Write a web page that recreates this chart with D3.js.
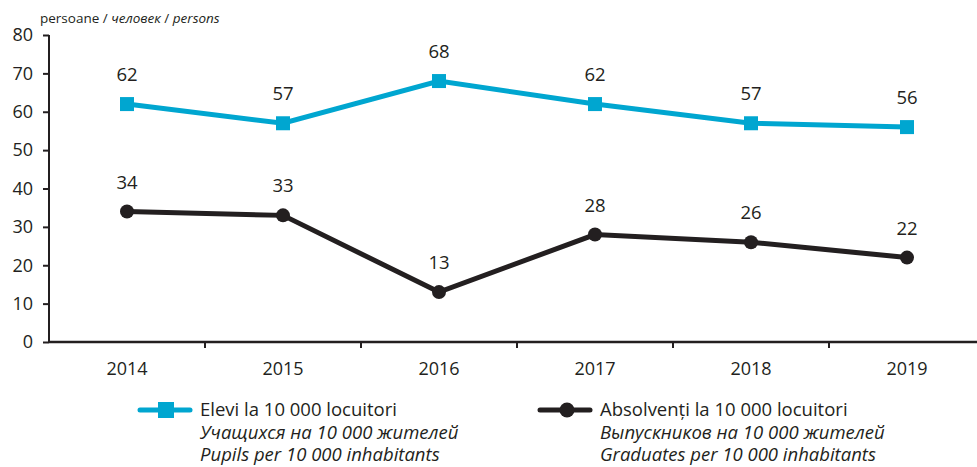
<!DOCTYPE html>
<html>
<head>
<meta charset="utf-8">
<script src="https://cdn.jsdelivr.net/npm/d3@7"></script>
<style>
  body { margin: 0; background: #fff; }
  text { font-family: "Open Sans", "Noto Sans", sans-serif; fill: #231f20; }
</style>
</head>
<body>
<svg id="chart" width="977" height="467"></svg>
<script>
// data
const years = ["2014", "2015", "2016", "2017", "2018", "2019"];
const pupils = [62, 57, 68, 62, 57, 56];
const graduates = [34, 33, 13, 28, 26, 22];
const yTicks = [0, 10, 20, 30, 40, 50, 60, 70, 80];

const blue = "#00a6d0", dark = "#231f20";

let svg = d3.select("#chart"),
    margin = {top: 35, right: -8, bottom: 125, left: 49},
    width = svg.attr("width") - margin.left - margin.right,
    height = svg.attr("height") - margin.top - margin.bottom,
    g = svg.append("g").attr("transform", "translate(" + margin.left + "," + margin.top + ")");

let x = d3.scaleBand().domain(years).range([0, width]),
    y = d3.scaleLinear().domain([0, 80]).range([height, 0]);

// y axis
let yAxis = g.append("g")
    .call(d3.axisLeft(y).tickValues(yTicks).tickSize(6).tickPadding(10));
yAxis.select(".domain").attr("stroke", dark).attr("stroke-width", 2).attr("d", "M0," + height + "V0");
yAxis.selectAll(".tick line").attr("stroke", dark).attr("stroke-width", 2);
yAxis.selectAll(".tick text").style("font-size", "18px").attr("fill", dark);

// x axis: ticks at band boundaries
let xAxis = g.append("g").attr("transform", "translate(0," + height + ")");
xAxis.append("line").attr("x1", 0).attr("x2", width + 10)
    .attr("stroke", dark).attr("stroke-width", 2.5);
xAxis.selectAll(".bound")
    .data(years.slice(1))
    .enter().append("line")
    .attr("x1", d => x(d)).attr("x2", d => x(d))
    .attr("y1", 0).attr("y2", 6)
    .attr("stroke", dark).attr("stroke-width", 2);
xAxis.selectAll(".lbl")
    .data(years)
    .enter().append("text")
    .attr("x", d => x(d) + x.bandwidth() / 2)
    .attr("y", 33)
    .attr("text-anchor", "middle")
    .style("font-size", "18px")
    .text(d => d);

let cx = d => x(d) + x.bandwidth() / 2;
let line = d3.line().x(d => cx(d[0])).y(d => y(d[1]));

function series(vals, color, shape) {
    let pts = years.map((yr, i) => [yr, vals[i]]);
    g.append("path").datum(pts)
        .attr("fill", "none").attr("stroke", color).attr("stroke-width", 5)
        .attr("d", line);
    if (shape === "square") {
        g.selectAll(null).data(pts).enter().append("rect")
            .attr("x", d => cx(d[0]) - 7).attr("y", d => y(d[1]) - 7)
            .attr("width", 14).attr("height", 14).attr("fill", color);
    } else {
        g.selectAll(null).data(pts).enter().append("circle")
            .attr("cx", d => cx(d[0])).attr("cy", d => y(d[1]))
            .attr("r", 7).attr("fill", color);
    }
    g.selectAll(null).data(pts).enter().append("text")
        .attr("x", d => cx(d[0])).attr("y", d => y(d[1]) - 23)
        .attr("text-anchor", "middle")
        .style("font-size", "18.5px")
        .text(d => d[1]);
}
series(pupils, blue, "square");
series(graduates, dark, "circle");

// unit label
svg.append("text")
    .attr("x", 40).attr("y", 23)
    .style("font-size", "13.5px")
    .html('persoane / <tspan font-style="italic">человек</tspan> / <tspan font-style="italic">persons</tspan>');

// legend
let legend = [
    {x: 140, color: blue, shape: "square", lines: ["Elevi la 10 000 locuitori", "Учащихся на 10 000 жителей", "Pupils per 10 000 inhabitants"]},
    {x: 540, color: dark, shape: "circle", lines: ["Absolvenți la 10 000 locuitori", "Выпускников на 10 000 жителей", "Graduates per 10 000 inhabitants"]}
];
legend.forEach(l => {
    let lg = svg.append("g").attr("transform", "translate(" + l.x + ",410)");
    lg.append("line").attr("x1", 0).attr("x2", 50)
        .attr("stroke", l.color).attr("stroke-width", 5).attr("stroke-linecap", "round");
    if (l.shape === "square")
        lg.append("rect").attr("x", 18).attr("y", -8).attr("width", 16).attr("height", 16).attr("fill", l.color);
    else
        lg.append("circle").attr("cx", 27).attr("cy", 0).attr("r", 7.5).attr("fill", l.color);
    l.lines.forEach((t, i) => {
        lg.append("text")
            .attr("x", 60).attr("y", 6 + i * 22.5)
            .style("font-size", "18.5px")
            .style("font-style", i > 0 ? "italic" : "normal")
            .text(t);
    });
});
</script>
</body>
</html>
